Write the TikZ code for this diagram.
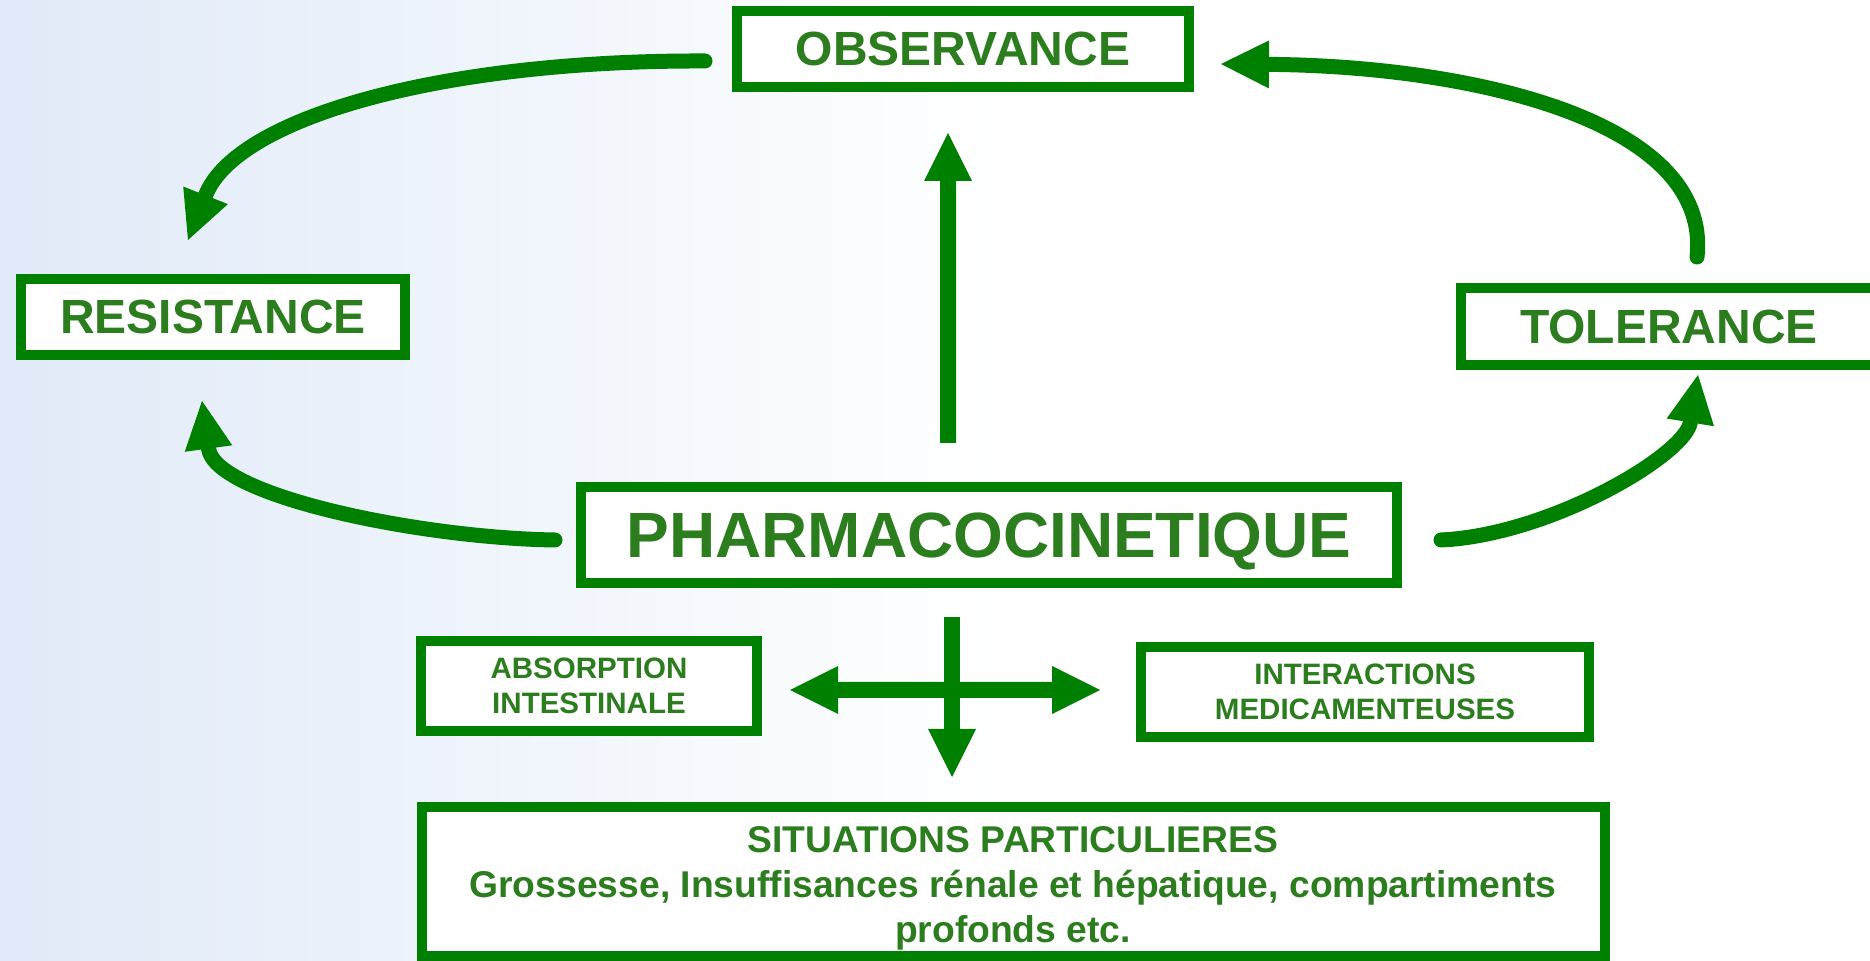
\documentclass[tikz,border=0pt]{standalone}
\usepackage{fontspec}
\setmainfont{Liberation Sans}
\usetikzlibrary{arrows.meta, calc}
\definecolor{cgreen}{HTML}{008000}
\definecolor{ctext}{HTML}{2B7D1E}
\definecolor{cblue}{HTML}{E0EAF8}
\tikzset{
  every picture/.style={font=\bfseries},
  box/.style={draw=cgreen, fill=white, line width=0.1cm, text=ctext, align=center, inner sep=0pt, minimum height=0.76cm},
  bigtext/.style={font=\fontsize{13.65}{16}\selectfont\bfseries},
  maintext/.style={font=\fontsize{18.2}{21}\selectfont\bfseries, text depth=0pt},
  smalltext/.style={font=\fontsize{8.4}{10}\selectfont\bfseries},
  sittext/.style={font=\fontsize{10.6}{12.8}\selectfont\bfseries},
  arrow/.style={->, >={Triangle[length=0.48cm, width=0.48cm, line width=0pt]}, draw=cgreen, line width=0.16cm},
  curve/.style={arrow, line width=0.15cm, line cap=round},
}

\begin{document}
\begin{tikzpicture}
  \useasboundingbox (0,0) rectangle (18.70,9.61);
  \shade[left color=cblue, right color=white] (0,0) rectangle (10,9.61);
  \node[box, bigtext, minimum width=4.52cm] (obs) at (9.63,9.12) {OBSERVANCE};
  \node[box, bigtext, minimum width=3.84cm] (res) at (2.13,6.44) {RESISTANCE};
  \node[box, bigtext, minimum width=4.16cm, minimum height=0.77cm] (tol) at (16.69,6.345) {TOLERANCE};
  \node[box, maintext, minimum width=8.16cm, minimum height=0.96cm] (pha) at (9.89,4.26) {PHARMACOCINETIQUE};
  \node[box, smalltext, minimum width=3.36cm, minimum height=0.90cm] (abs) at (5.89,2.75) {ABSORPTION\\INTESTINALE};
  \node[box, smalltext, minimum width=4.48cm, minimum height=0.90cm] (int) at (13.65,2.69) {INTERACTIONS\\MEDICAMENTEUSES};
  \node[box, sittext, minimum width=11.83cm, minimum height=1.49cm] (sit) at (10.13,0.795)
    {\rule{0pt}{0.405cm}SITUATIONS PARTICULIERES\\Grossesse, Insuffisances rénale et hépatique, compartiments\\profonds etc.};
  % curved links round the main box
  \draw[curve] ([shift={(-0.27,-0.12)}]obs.west) .. controls (4.40,9.01) and (2.36,8.43) .. ([shift={(-0.25,0.34)}]res.north);
  \draw[curve] ([shift={(0.28,0.26)}]tol.north) .. controls (17.12,8.41) and (14.70,8.95) .. ([shift={(0.27,-0.15)}]obs.east);
  \draw[curve] ([shift={(-0.21,-0.05)}]pha.west) .. controls (4.20,4.23) and (2.15,4.65) .. ([shift={(-0.11,-0.41)}]res.south);
  \draw[curve] ([shift={(0.39,-0.05)}]pha.east) .. controls (15.50,4.26) and (16.85,5.06) .. ([shift={(0.29,-0.05)}]tol.south);
  \draw[arrow] ([shift={(-0.41,0.39)}]pha.north) -- ([shift={(-0.15,-0.41)}]obs.south);
  \draw[arrow] ([shift={(-0.37,-0.29)}]pha.south) -- ([shift={(-0.61,0.25)}]sit.north);
  \draw[arrow, <->] ([shift={(0.28,-0.04)}]abs.east) -- ([shift={(-0.36,0.02)}]int.west);
\end{tikzpicture}
\end{document}
